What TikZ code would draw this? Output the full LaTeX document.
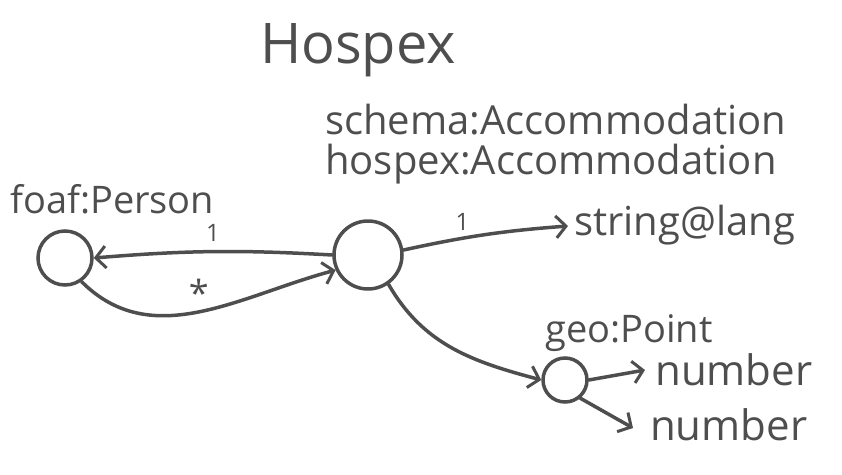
\documentclass[tikz,border=0pt]{standalone}
\usepackage{fontspec}
\setmainfont{Open Sans}
\usetikzlibrary{arrows.meta}
\definecolor{pencil}{HTML}{4E4E4E}
\begin{document}
\begin{tikzpicture}[x=1pt,y=-1pt,
  circ/.style={circle,draw=pencil,line width=3.5pt,inner sep=0pt},
  lbl/.style={text=pencil,inner sep=0pt},
  card/.style={text=pencil,inner sep=2pt,font=\fontsize{24}{28}\selectfont},
  arr/.style={draw=pencil,line width=3.5pt,line cap=round,-{Straight Barb[length=10pt,width=22pt,line width=3pt]}}]
\useasboundingbox (0,0) rectangle (842,474);
% title
\node[text=pencil,font=\fontsize{56}{60}\selectfont] (title) at (358,50) {Hospex};
% circles
\node[circ,minimum size=54pt] (p) at (65,258) {};
\node[circ,minimum size=68pt] (a) at (368,255) {};
\node[circ,minimum size=44pt] (g) at (565,380) {};
% labels
\node[lbl,anchor=base west,font=\fontsize{38}{40}\selectfont] (pl) at (10,213) {foaf:Person};
\node[lbl,anchor=north west,align=left,font=\fontsize{40}{40}\selectfont] (al) at (325,104) {schema:Accommodation\\hospex:Accommodation};
\node[lbl,anchor=base west,font=\fontsize{40}{44}\selectfont] (sl) at (574,235) {string@lang};
\node[lbl,anchor=base west,font=\fontsize{38}{44}\selectfont] (gl) at (545,342) {geo:Point};
\node[lbl,anchor=base west,font=\fontsize{42}{44}\selectfont] (n1) at (655,385) {number};
\node[lbl,anchor=base west,font=\fontsize{42}{44}\selectfont] (n2) at (650,440) {number};
% connectors
\draw[arr] (a.west) to[bend right=4] node[card,above=6pt] {1} (p.east);
\draw[arr] (p.-55) to[out=-45,in=195] node[card,above=2pt,pos=0.5,font=\fontsize{36}{36}\selectfont] {*} (a.205);
\draw[arr] (a.8) to[bend left=4] node[card,above=4pt,pos=0.35] {1} (568,226);
\draw[arr] (a.-55) to[out=-60,in=165] (g.west);
\draw[arr] (g.east) to (645,370);
\draw[arr] (g.-50) to (633,428);
\end{tikzpicture}
\end{document}
